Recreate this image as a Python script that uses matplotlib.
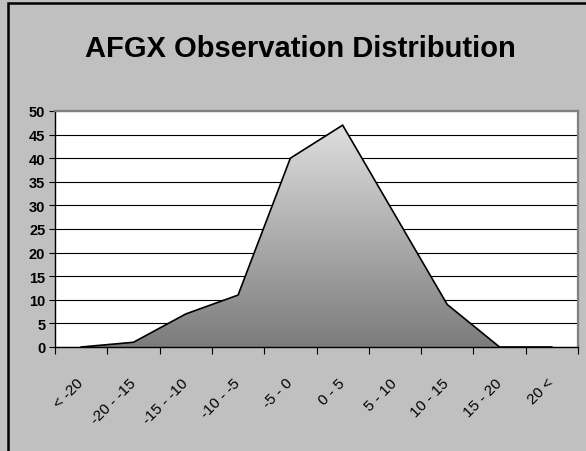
import numpy as np
import matplotlib
matplotlib.use("Agg")
import matplotlib.pyplot as plt
from matplotlib.colors import LinearSegmentedColormap
from matplotlib.patches import Rectangle, Polygon

categories = ["< -20", "-20 - -15", "-15 - -10", "-10 - -5", "-5 - 0",
              "0 - 5", "5 - 10", "10 - 15", "15 - 20", "20 <"]
values = [0, 1, 7, 11, 40, 47, 28, 9, 0, 0]
yticks = [0, 5, 10, 15, 20, 25, 30, 35, 40, 45, 50]
title = "AFGX Observation Distribution"

W, H = 586, 452
fig = plt.figure(figsize=(W / 100, H / 100), dpi=100)
fig.patch.set_facecolor("#c0c0c0")

# outer chart border (left/top visible)
fig.patches.append(Rectangle((8 / W, -0.1), 1.2, 1.1 - 3.5 / H,
                             transform=fig.transFigure, fill=False,
                             edgecolor="black", linewidth=1.8, clip_on=False))

ax = fig.add_axes([55 / W, 1 - 348 / H, (578 - 55) / W, (348 - 112) / H])
ax.set_facecolor("white")
x = np.arange(len(categories))
ax.set_xlim(-0.5, len(categories) - 0.5)
ax.set_ylim(0, 50)

# gradient fill under the line
cmap = LinearSegmentedColormap.from_list("g", ["#7c7c7c", "#dedede"])
grad = np.linspace(0, 1, 256).reshape(-1, 1)
im = ax.imshow(grad, cmap=cmap, origin="lower", aspect="auto",
               extent=[x[0], x[-1], 0, max(values)], zorder=2)
poly = Polygon(np.column_stack([np.r_[x, x[::-1]], np.r_[values, np.zeros(len(x))]]),
               closed=True, facecolor="none", edgecolor="none")
ax.add_patch(poly)
im.set_clip_path(poly)
ax.plot(x, values, color="black", lw=1.2, zorder=3, solid_joinstyle="miter")

ax.set_yticks(yticks)
ax.set_yticklabels([str(v) for v in yticks], fontsize=10.5, fontweight="bold",
                   family="Liberation Sans")
ax.yaxis.grid(True, color="black", lw=0.8)
ax.set_axisbelow(True)
ax.tick_params(axis="y", direction="out", length=4, width=0.8, pad=3)

ax.set_xticks(x)
ax.set_xticks(np.arange(-0.5, len(categories)), minor=True)
ax.tick_params(axis="x", which="major", length=0, pad=24)
ax.tick_params(axis="x", which="minor", direction="out", length=5, width=0.8)
ax.set_xticklabels(categories, rotation=45, ha="right", va="center",
                   rotation_mode="anchor", fontsize=11, family="Liberation Sans")

for s in ["top", "right"]:
    ax.spines[s].set_color("#808080")
    ax.spines[s].set_linewidth(1.6)
for s in ["left", "bottom"]:
    ax.spines[s].set_color("black")
    ax.spines[s].set_linewidth(1.0)

fig.text(300 / W, 1 - 57 / H, title, ha="center", va="baseline",
         fontsize=21, fontweight="bold", family="Liberation Sans")

fig.savefig("out.png", dpi=100, facecolor=fig.get_facecolor())
